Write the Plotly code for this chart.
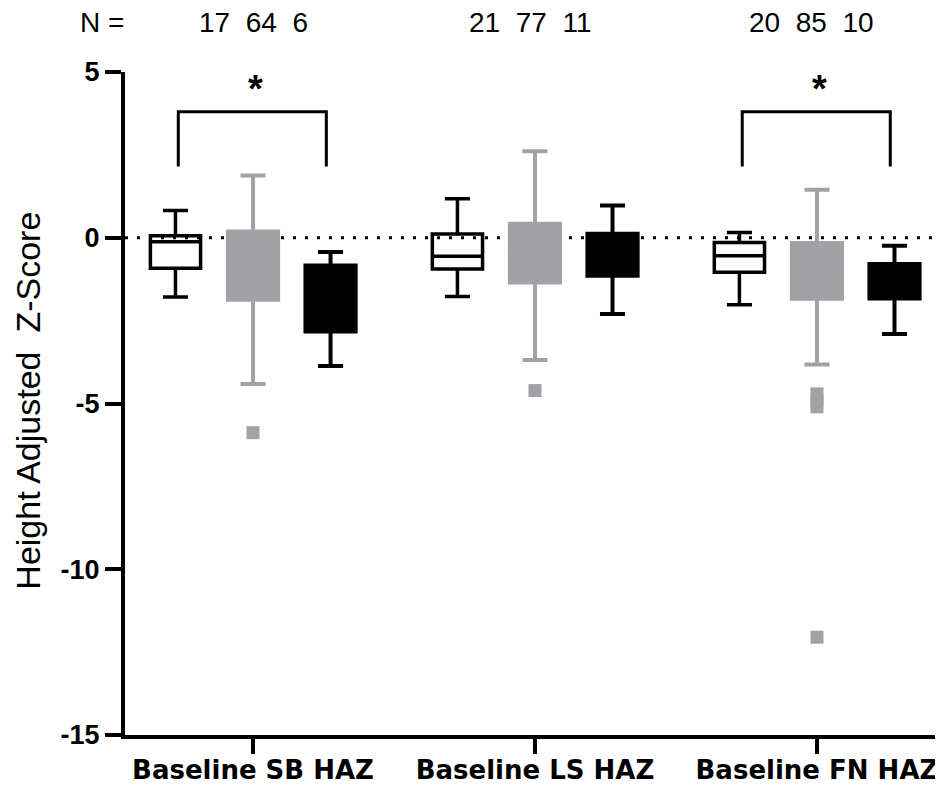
import plotly.graph_objects as go

# ---- data ----
categories = ["Baseline SB HAZ", "Baseline LS HAZ", "Baseline FN HAZ"]
group_pos = [0, 1, 2]
n_counts = ["17  64  6", "21  77  11", "20  85  10"]
n_label_pos = [0.0, 0.984, 1.982]

# series A (white)
a_low = [-1.79, -1.77, -2.02]
a_q1 = [-0.92, -0.94, -1.04]
a_med = [-0.12, -0.56, -0.54]
a_q3 = [0.06, 0.11, -0.14]
a_high = [0.82, 1.18, 0.16]

# series B (grey)
b_low = [-4.41, -3.69, -3.82]
b_q1 = [-1.87, -1.35, -1.84]
b_med = [-0.90, -0.50, -0.90]
b_q3 = [0.19, 0.42, -0.16]
b_high = [1.88, 2.61, 1.45]
b_out_group = [0, 1, 2, 2, 2, 2]
b_out_val = [-5.88, -4.61, -4.71, -4.90, -5.10, -12.05]

# series C (black)
c_low = [-3.87, -2.30, -2.90]
c_q1 = [-2.83, -1.15, -1.83]
c_med = [-1.80, -0.50, -1.20]
c_q3 = [-0.84, 0.12, -0.79]
c_high = [-0.43, 0.97, -0.24]

# significance brackets (groups 0 and 2)
sig_groups = [0, 2]
bracket_left = -0.265
bracket_right = 0.26
bracket_top = 3.8
bracket_foot = 2.15
star_y = 4.5

offset = 0.275
box_w = 0.178
GREY = "#a2a2a6"

fig = go.Figure()

fig.add_shape(type="line", xref="paper", yref="y", x0=0, x1=1, y0=0, y1=0,
              line=dict(color="black", width=3, dash="3px,9px"), layer="below")

def add_box(pos_shift, low, q1, med, q3, high, line_color, fill, lw):
    fig.add_trace(go.Box(
        x=[g + pos_shift for g in group_pos],
        lowerfence=low, q1=q1, median=med, q3=q3, upperfence=high,
        width=box_w, whiskerwidth=0.5,
        line=dict(color=line_color, width=lw),
        fillcolor=fill, boxpoints=False, showlegend=False, hoverinfo="skip"))

add_box(-offset, a_low, a_q1, a_med, a_q3, a_high, "black", "rgba(0,0,0,0)", 3.5)
add_box(0, b_low, b_q1, b_med, b_q3, b_high, GREY, GREY, 4)
add_box(offset, c_low, c_q1, c_med, c_q3, c_high, "black", "black", 4)

fig.add_trace(go.Scatter(
    x=[group_pos[g] for g in b_out_group], y=b_out_val, mode="markers",
    marker=dict(symbol="square", size=13, color=GREY),
    showlegend=False, hoverinfo="skip"))

for g in sig_groups:
    fig.add_trace(go.Scatter(
        x=[g + bracket_left, g + bracket_left, g + bracket_right, g + bracket_right],
        y=[bracket_foot, bracket_top, bracket_top, bracket_foot],
        mode="lines", line=dict(color="black", width=3),
        showlegend=False, hoverinfo="skip"))
    fig.add_annotation(x=g + 0.01, y=star_y, xref="x", yref="y", text="<b>*</b>",
                       showarrow=False, font=dict(family="Liberation Sans", size=38, color="black"),
                       xanchor="center", yanchor="middle")

for pos, txt in zip(n_label_pos, n_counts):
    fig.add_annotation(x=pos, y=1.074, xref="x", yref="paper", text=txt, showarrow=False,
                       font=dict(family="Liberation Sans", size=28, color="black"),
                       xanchor="center", yanchor="middle")
fig.add_annotation(x=-0.028, y=1.074, xref="paper", yref="paper", text="N =", showarrow=False,
                   font=dict(family="Liberation Sans", size=28, color="black"),
                   xanchor="center", yanchor="middle")

fig.add_annotation(x=-0.118, y=0.505, xref="paper", yref="paper",
                   text="Height Adjusted  Z-Score", textangle=-90, showarrow=False,
                   font=dict(family="Liberation Sans", size=34, color="black"),
                   xanchor="center", yanchor="middle")

# page body adds an 8px offset, so the figure is 8px smaller and margins shifted
fig.update_layout(
    width=935, height=778,
    margin=dict(l=117, r=0, t=64, b=51),
    paper_bgcolor="white", plot_bgcolor="white",
    showlegend=False,
    xaxis=dict(range=[-0.454, 2.447], tickmode="array", tickvals=group_pos, ticktext=categories,
               showline=True, linecolor="black", linewidth=4, ticks="outside", ticklen=15,
               tickwidth=4, tickcolor="black", showgrid=False, zeroline=False,
               ticklabelstandoff=-6,
               tickfont=dict(family="DejaVu Sans", size=26, color="black", weight="bold")),
    yaxis=dict(range=[-15, 5], tickmode="array", tickvals=[5, 0, -5, -10, -15],
               ticktext=["5", "0", "-5", "-10", "-15"],
               showline=True, linecolor="black", linewidth=4, ticks="outside", ticklen=16,
               tickwidth=4, tickcolor="black", showgrid=False, zeroline=False,
               tickfont=dict(family="Liberation Sans", size=27, color="black", weight="bold")),
)

fig.write_html("out.html")
